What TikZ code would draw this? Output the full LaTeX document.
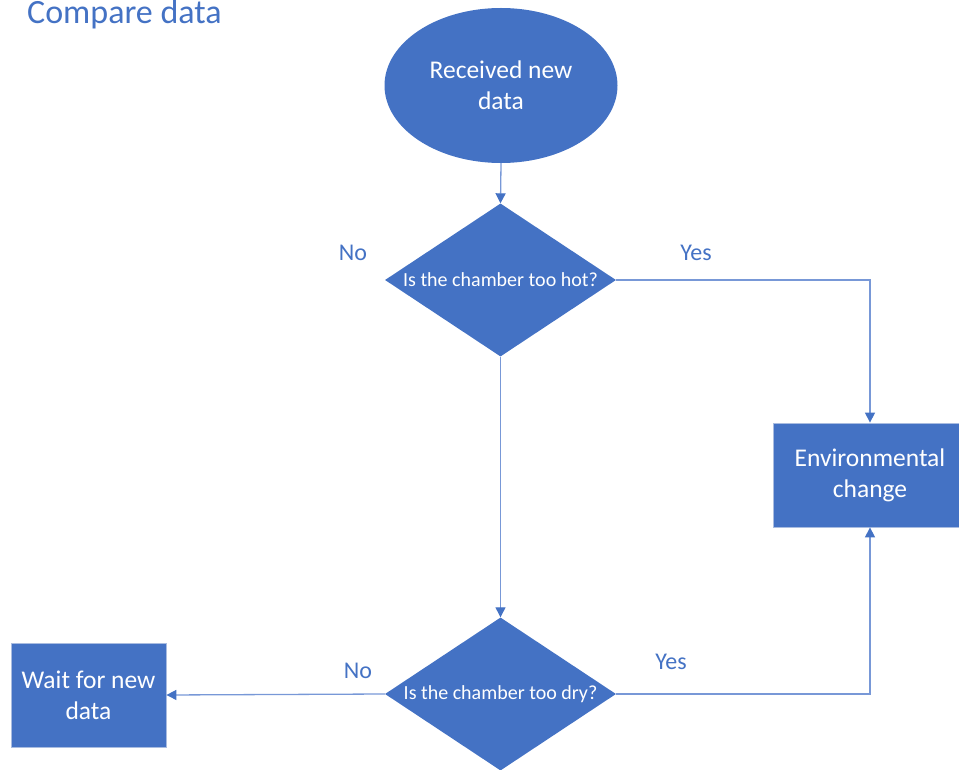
\documentclass[tikz,border=0pt]{standalone}
\usepackage{fontspec}
\setmainfont{Carlito}
\usetikzlibrary{shapes.geometric,arrows.meta}
\definecolor{accent}{HTML}{4472C4}
\definecolor{wire}{RGB}{120,152,215}
\definecolor{rim}{HTML}{A9BCE0}
\tikzset{
  shapetext/.style={text=white,font=\fontsize{25.5}{31}\selectfont,align=center,inner sep=0pt},
  terminal/.style={shapetext,ellipse,fill=accent,minimum width=233pt,minimum height=155pt},
  decision/.style={diamond,fill=accent,text=white,font=\fontsize{20}{24}\selectfont,
    inner sep=0pt,minimum width=231pt,minimum height=153pt},
  process/.style={shapetext,rectangle,fill=accent,draw=rim,line width=0.8pt,minimum height=104pt},
  flow/.style={draw=wire,line width=1.3pt,-{Triangle[length=10pt,width=10pt,color=accent]}},
  branch/.style={text=accent,font=\fontsize{24}{28}\selectfont,inner sep=0pt}
}
\begin{document}
\begin{tikzpicture}[x=1pt,y=-1pt]
\useasboundingbox (0,0) rectangle (959,770);

% heading
\node[text=accent,font=\fontsize{34}{40}\selectfont,anchor=base west,inner sep=0pt] (title) at (27,23.5) {Compare data};

% shapes
\node[terminal] (start) at (501,85.5) {Received new\\data};
\node[decision] (hot) at (500.5,280) {\makebox[0pt]{Is the chamber too hot?}};
\node[decision] (dry) at (500.5,694) {\raisebox{-2pt}{\makebox[0pt]{Is the chamber too dry?}}};
\node[process,minimum width=194pt] (env) at (870,475) {Environmental\\change};
\node[process,minimum width=155pt] (wait) at (88.5,695) {Wait for new\\data};

% connectors
\draw[flow] (start.south) -- (hot.north);
\draw[flow] (hot.south) -- (dry.north);
\draw[flow] (hot.east) -| (env.north);
\draw[flow] (dry.east) -| (env.south);
\draw[flow] (dry.west) -- (wait.east);

% branch labels
\node[branch] (hotno) at (353,253) {No};
\node[branch] (hotyes) at (696,253) {Yes};
\node[branch] (dryno) at (358,671) {No};
\node[branch] (dryyes) at (671,662) {Yes};
\end{tikzpicture}
\end{document}
